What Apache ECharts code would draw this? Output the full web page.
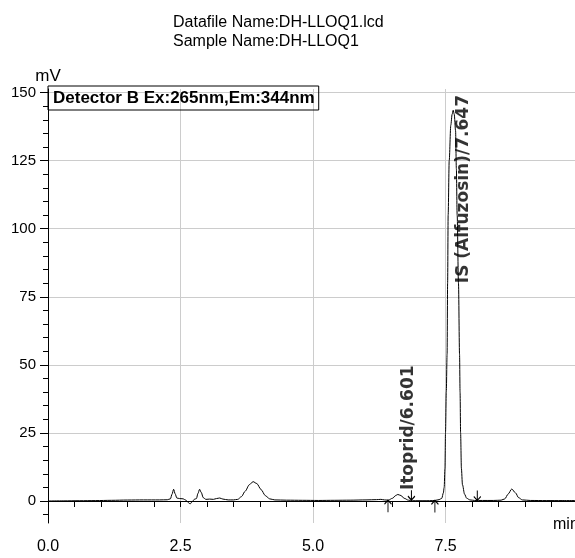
<!DOCTYPE html>
<html>
<head>
<meta charset="utf-8">
<script src="https://cdn.jsdelivr.net/npm/echarts@6/dist/echarts.min.js"></script>
<style>
  html, body { margin: 0; padding: 0; background: #fff; }
  #chart { width: 575px; height: 558px; }
</style>
</head>
<body>
<div id="chart"></div>
<script>
// chromatogram trace (time in min, signal in mV)
var times = [
  0.00, 0.30, 0.60, 0.90, 1.20, 1.50, 1.80, 2.10, 2.25, 2.31,
  2.34, 2.37, 2.40, 2.43, 2.48, 2.55, 2.60, 2.65, 2.68, 2.72,
  2.76, 2.80, 2.83, 2.86, 2.89, 2.93, 2.98, 3.05, 3.12, 3.18,
  3.24, 3.30, 3.40, 3.50, 3.58, 3.65, 3.72, 3.80, 3.87, 3.94,
  4.02, 4.10, 4.18, 4.28, 4.50, 4.80, 5.10, 5.40, 5.70, 6.00,
  6.20, 6.28, 6.35, 6.42, 6.50, 6.56, 6.60, 6.66, 6.72, 6.80,
  6.88, 7.00, 7.15, 7.25, 7.30, 7.38, 7.43, 7.46, 7.475, 7.49,
  7.50, 7.515, 7.53, 7.54, 7.55, 7.57, 7.60, 7.625, 7.645, 7.665,
  7.69, 7.705, 7.72, 7.745, 7.765, 7.775, 7.785, 7.80, 7.82, 7.86,
  7.90, 7.96, 8.05, 8.20, 8.40, 8.55, 8.62, 8.68, 8.75, 8.82,
  8.88, 8.95, 9.10, 9.40, 9.70, 10.00
];
var signal = [
  0.0, 0.05, 0.1, 0.15, 0.25, 0.35, 0.4, 0.4, 0.45, 0.8,
  2.5, 4.3, 2.6, 1.1, 0.9, 0.8, 0.3, -0.6, -1.1, -0.3,
  0.6, 0.9, 2.8, 4.3, 3.2, 1.2, 0.6, 0.7, 0.6, 0.9,
  1.1, 0.7, 0.4, 0.4, 0.6, 1.6, 3.6, 6.0, 7.1, 6.4,
  4.2, 2.0, 0.8, 0.4, 0.3, 0.25, 0.2, 0.25, 0.3, 0.4,
  0.5, 0.6, 0.4, 0.3, 1.0, 2.0, 2.4, 2.0, 1.0, 0.3,
  0.1, 0.1, 0.1, 0.15, 0.2, 0.5, 1.0, 3.0, 5.0, 12,
  25, 40, 54, 80, 105, 125, 138, 142, 143.5, 142,
  136, 122, 105, 80, 54, 40, 25, 12, 6, 2.5,
  1.0, 0.4, 0.2, 0.2, 0.2, 0.3, 0.8, 2.5, 4.4, 3.0,
  1.2, 0.4, 0.2, 0.15, 0.15, 0.15
];

// identified peaks
var peakNames = ['Itoprid', 'IS (Alfuzosin)'];
var peakTimes = [6.601, 7.647];

// integration start / end markers
var integStart = [6.415, 7.30];
var integEnd = [6.857, 8.10];
var markerLevel = [0.3, 0.2];

var yTicks = [0, 25, 50, 75, 100, 125, 150];
var yMinorTicks = [-5, 0, 5, 10, 15, 20, 25, 30, 35, 40, 45, 50, 55, 60, 65, 70, 75,
  80, 85, 90, 95, 100, 105, 110, 115, 120, 125, 130, 135, 140, 145, 150];

var FONT = "'Liberation Sans', Arial, sans-serif";
var WIDE_BOLD = "'DejaVu Sans', sans-serif";

var chart = echarts.init(document.getElementById('chart'), null, { renderer: 'canvas' });

var trace = times.map(function (t, i) { return [t, signal[i]]; });

// where the rotated peak names sit (shift right of the peak, base level in mV)
var labelShift = 0.2;
var labelBase = [4, 80];

var Y_MIN = -8.08;
var Y_MAX = 151.3;

chart.setOption({
  animation: false,
  title: {
    text: 'Datafile Name:DH-LLOQ1.lcd\nSample Name:DH-LLOQ1',
    left: 173,
    top: 13,
    padding: 0,
    textStyle: {
      fontFamily: FONT,
      fontSize: 16,
      fontWeight: 'normal',
      color: '#000',
      lineHeight: 19
    }
  },
  legend: {
    data: [{ name: 'Detector B Ex:265nm,Em:344nm', icon: 'none' }],
    left: 48,
    top: 86,
    itemWidth: 0,
    itemHeight: 0,
    padding: [2, 4, 2, 0],
    borderColor: '#000',
    borderWidth: 1,
    selectedMode: false,
    textStyle: {
      fontFamily: FONT,
      fontSize: 17,
      fontWeight: 'bold',
      color: '#000',
      lineHeight: 20
    }
  },
  grid: {
    left: 48,
    right: -3,
    top: 89,
    bottom: 35,
    outerBoundsMode: 'none'
  },
  xAxis: [
    {
      type: 'value',
      min: 0,
      max: 10,
      interval: 2.5,
      name: 'min',
      nameLocation: 'end',
      nameGap: -25,
      nameTextStyle: {
        fontFamily: FONT,
        fontSize: 16,
        color: '#000',
        align: 'left',
        verticalAlign: 'top',
        padding: [16, 0, 0, 0]
      },
      axisLine: { lineStyle: { color: '#000', width: 1 } },
      axisTick: { length: 6, lineStyle: { color: '#000' } },
      minorTick: { show: true, splitNumber: 5, length: 6, lineStyle: { color: '#000' } },
      axisLabel: {
        showMaxLabel: false,
        margin: 16,
        fontFamily: FONT,
        fontSize: 16,
        color: '#000',
        formatter: function (v) { return v.toFixed(1); }
      },
      splitLine: { show: true, lineStyle: { color: '#cccccc', width: 1 } }
    },
    {
      type: 'value',
      position: 'top',
      min: 0,
      max: 10,
      axisLine: { show: true, lineStyle: { color: '#000', width: 1 } },
      axisTick: { show: false },
      axisLabel: { show: false },
      splitLine: { show: false }
    }
  ],
  yAxis: [
    {
      type: 'value',
      min: Y_MIN,
      max: Y_MAX,
      name: 'mV',
      nameLocation: 'end',
      nameGap: 1,
      nameTextStyle: { fontFamily: FONT, fontSize: 17, color: '#000' },
      axisLine: { show: true, lineStyle: { color: '#000', width: 1 } },
      axisTick: { show: true, length: 8, customValues: yTicks, lineStyle: { color: '#000' } },
      axisLabel: {
        customValues: yTicks,
        margin: 12,
        fontFamily: FONT,
        fontSize: 15,
        color: '#000'
      },
      splitLine: { show: true, lineStyle: { color: '#cccccc', width: 1 } }
    },
    {
      type: 'value',
      position: 'left',
      min: Y_MIN,
      max: Y_MAX,
      axisLine: { show: false },
      axisTick: { show: true, length: 5, customValues: yMinorTicks, lineStyle: { color: '#000' } },
      axisLabel: { show: false },
      splitLine: { show: false }
    }
  ],
  series: [
    {
      name: 'Detector B Ex:265nm,Em:344nm',
      type: 'line',
      data: trace,
      showSymbol: false,
      smooth: 0.3,
      smoothMonotone: 'x',
      lineStyle: { color: '#000', width: 1 },
      itemStyle: { color: '#000' },
      z: 5
    },
    {
      name: 'peak labels',
      type: 'scatter',
      symbolSize: 0,
      data: peakTimes.map(function (t, i) {
        return { value: [t + labelShift, labelBase[i]], name: peakNames[i] + '/' + t.toFixed(3) };
      }),
      label: {
        show: true,
        position: 'inside',
        rotate: 90,
        align: 'left',
        verticalAlign: 'middle',
        formatter: '{b}',
        fontFamily: WIDE_BOLD,
        fontWeight: 'bold',
        fontSize: 17,
        color: '#000'
      },
      z: 6
    },
    {
      name: 'start',
      type: 'scatter',
      data: integStart.map(function (t, i) { return [t, markerLevel[i]]; }),
      symbol: 'path://M0,0 L0,12 M-3,4 L0,0 L3,4',
      symbolSize: [7, 12],
      symbolOffset: [0, 6],
      itemStyle: { color: 'none', borderColor: '#000', borderWidth: 1.2, opacity: 1 },
      z: 6
    },
    {
      name: 'end',
      type: 'scatter',
      data: integEnd.map(function (t, i) { return [t, markerLevel[i]]; }),
      symbol: 'path://M0,0 L0,10 M-3,6 L0,10 L3,6',
      symbolSize: [7, 10],
      symbolOffset: [0, -5],
      itemStyle: { color: 'none', borderColor: '#000', borderWidth: 1.2, opacity: 1 },
      z: 6
    }
  ]
});
</script>
</body>
</html>
